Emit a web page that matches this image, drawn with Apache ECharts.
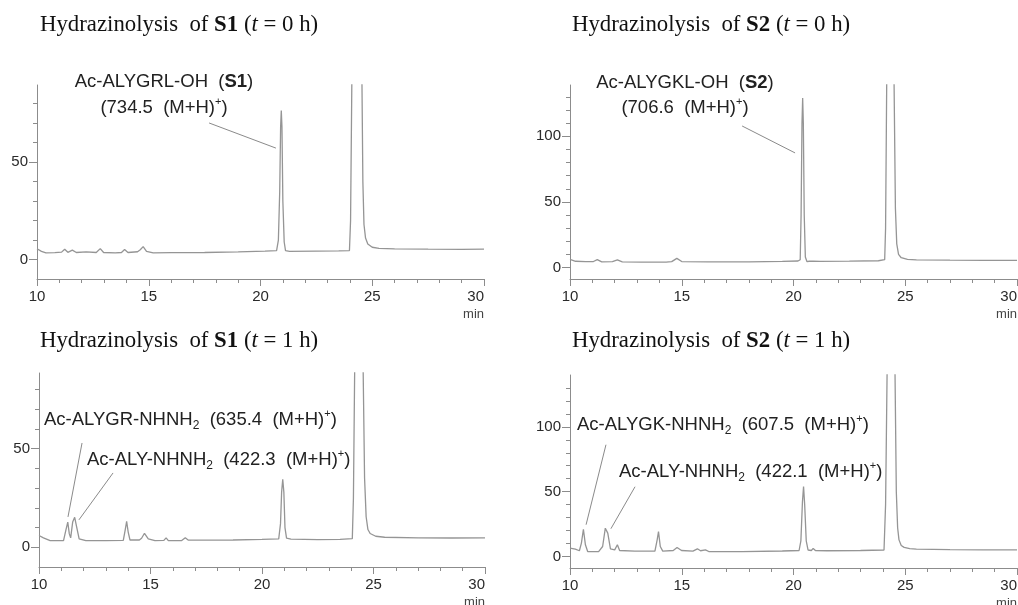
<!DOCTYPE html>
<html>
<head>
<meta charset="utf-8">
<title>Hydrazinolysis of S1 / S2</title>
<script src="https://cdn.jsdelivr.net/npm/echarts@6/dist/echarts.min.js"></script>
<style>
  html, body { margin: 0; padding: 0; background: #fff; }
  #main { width: 1018px; height: 605px; }
</style>
</head>
<body>
<div id="main"></div>
<script>
// retention time (min) and detector signal
var s1h0Time = [10.0, 10.2, 10.4, 10.8, 11.1, 11.24, 11.38, 11.58, 11.76, 12.2, 12.65, 12.83, 12.98, 13.5, 13.78, 13.92, 14.07, 14.5, 14.62, 14.75, 14.9, 15.2, 16.0, 17.5, 19.0, 20.2, 20.72, 20.8, 20.86, 20.9, 20.93, 20.96, 21.0, 21.06, 21.12, 21.3, 22.5, 23.5, 23.98, 24.03, 24.09, 24.2, 24.3, 24.45, 24.54, 24.58, 24.63, 24.7, 24.8, 25.0, 25.3, 26.0, 27.5, 29.0, 30.0];
var s1h0Signal = [5.5, 4.2, 3.4, 3.5, 3.8, 5.3, 3.7, 4.8, 3.6, 3.9, 3.6, 5.6, 3.6, 3.4, 3.6, 5.1, 3.6, 4.0, 5.0, 6.6, 4.2, 3.4, 3.5, 3.6, 3.9, 4.3, 4.6, 10, 35, 68, 76.5, 68, 30, 9, 4.6, 4.2, 4.3, 4.4, 4.6, 20, 95, 400, 600, 400, 90, 40, 18, 11, 8, 6.3, 5.7, 5.5, 5.3, 5.2, 5.3];

var s2h0Time = [10.0, 10.25, 10.7, 11.05, 11.22, 11.42, 11.9, 12.12, 12.34, 13.2, 14.3, 14.55, 14.78, 15.0, 16.2, 18.0, 19.5, 20.2, 20.3, 20.34, 20.38, 20.41, 20.44, 20.48, 20.53, 20.6, 20.7, 20.78, 20.88, 21.2, 22.5, 23.8, 24.08, 24.12, 24.17, 24.25, 24.35, 24.45, 24.5, 24.56, 24.62, 24.7, 24.82, 25.1, 25.5, 27.0, 28.5, 30.0];
var s2h0Signal = [6.3, 4.8, 4.5, 4.6, 6.0, 4.3, 4.6, 5.8, 4.3, 4.1, 4.2, 4.5, 7.0, 4.6, 4.3, 4.4, 4.7, 5.0, 6, 40, 110, 129, 110, 40, 8, 4.6, 4.8, 6.0, 4.8, 4.7, 4.9, 5.2, 6, 30, 140, 500, 700, 400, 140, 45, 18, 10, 7.5, 6.2, 5.8, 5.6, 5.5, 5.5];

var s1h1Time = [10.0, 10.2, 10.5, 11.1, 11.2, 11.29, 11.36, 11.42, 11.51, 11.6, 11.69, 11.8, 12.1, 13.0, 13.78, 13.86, 13.93, 14.0, 14.08, 14.5, 14.6, 14.73, 14.9, 15.2, 15.6, 15.7, 15.8, 16.4, 16.56, 16.7, 17.5, 18.7, 20.0, 20.75, 20.83, 20.88, 20.93, 20.98, 21.03, 21.1, 21.3, 22.5, 23.5, 24.05, 24.1, 24.16, 24.25, 24.45, 24.53, 24.6, 24.67, 24.75, 24.85, 25.1, 25.5, 27.0, 28.5, 30.0];
var s1h1Signal = [6.0, 4.8, 3.4, 3.4, 8.5, 12.8, 6.8, 4.8, 12.8, 15.2, 10.2, 4.3, 3.4, 3.4, 3.5, 8.5, 13.1, 7.7, 3.7, 3.7, 4.6, 7.1, 4.3, 3.4, 3.5, 4.8, 3.4, 3.4, 4.8, 3.6, 3.6, 3.7, 4.0, 4.3, 12, 28, 34.5, 28, 10, 4.6, 4.1, 3.9, 4.0, 4.4, 25, 95, 400, 400, 95, 35, 15.5, 9, 7.0, 5.6, 5.1, 4.8, 4.7, 4.8];

var s2h1Time = [10.0, 10.24, 10.42, 10.51, 10.6, 10.69, 10.79, 11.28, 11.46, 11.58, 11.69, 11.81, 12.0, 12.12, 12.22, 12.9, 13.8, 13.9, 13.96, 14.04, 14.15, 14.62, 14.79, 14.99, 15.5, 15.7, 15.84, 16.06, 16.21, 17.7, 19.5, 20.25, 20.33, 20.4, 20.45, 20.5, 20.57, 20.65, 20.8, 20.88, 20.98, 21.5, 23.0, 24.05, 24.12, 24.19, 24.3, 24.45, 24.54, 24.6, 24.66, 24.72, 24.82, 24.95, 25.2, 25.5, 27.0, 28.5, 30.0];
var s2h1Signal = [6.4, 5.6, 4.4, 10.3, 21.0, 9.0, 3.8, 3.8, 7.7, 21.8, 18.0, 5.9, 5.1, 9.0, 4.6, 4.1, 4.1, 12.8, 19.2, 7.7, 4.1, 4.6, 6.9, 4.6, 4.1, 5.9, 4.4, 5.1, 3.8, 3.8, 4.2, 4.6, 12, 42, 54, 40, 12, 5, 4.6, 6.2, 4.6, 4.4, 4.6, 5.0, 40, 145, 500, 500, 145, 50, 22, 12.8, 8.5, 7.0, 6.0, 5.6, 5.2, 5.1, 5.1];

// tick labels / tick marks
var xTickLabels = [10, 15, 20, 25, 30];
var xMinorTicks = [11, 12, 13, 14, 16, 17, 18, 19, 21, 22, 23, 24, 26, 27, 28, 29];
var yTickLabelsS1 = [0, 50];
var yMinorTicksS1 = [10, 20, 30, 40, 60, 70, 80];
var yTickLabelsS2 = [0, 50, 100];
var yMinorTicksS2 = [10, 20, 30, 40, 60, 70, 80, 90, 110, 120, 130];

var axisColor = '#8c8c8c';
var lineColor = '#959595';
var sans = 'Liberation Sans, Arial, sans-serif';
var serif = 'Liberation Serif, Times New Roman, serif';

var panels = [
  {
    time: s1h0Time, signal: s1h0Signal,
    grid: { left: 37, top: 85, width: 447, height: 194 },
    yMin: -10, yMax: 89.6, yLabels: yTickLabelsS1, yMinor: yMinorTicksS1,
    title: { x: 40, y: 25, text: '{n|Hydrazinolysis  of }{b|S1}{n| (}{i|t}{n| = 0 h)}' },
    notes: [
      { x: 164, y: 82, align: 'center', text: '{n|Ac-ALYGRL-OH  (}{b|S1}{n|)}' },
      { x: 164, y: 108, align: 'center', text: '{n|(734.5  (M+H)}{sup|+}{n|)}' }
    ],
    leaders: [[[17.70, 70.1], [20.69, 57.2]]]
  },
  {
    time: s2h0Time, signal: s2h0Signal,
    grid: { left: 570, top: 85, width: 447, height: 194 },
    yMin: -8.7, yMax: 139, yLabels: yTickLabelsS2, yMinor: yMinorTicksS2,
    title: { x: 572, y: 25, text: '{n|Hydrazinolysis  of }{b|S2}{n| (}{i|t}{n| = 0 h)}' },
    notes: [
      { x: 685, y: 83, align: 'center', text: '{n|Ac-ALYGKL-OH  (}{b|S2}{n|)}' },
      { x: 685, y: 108, align: 'center', text: '{n|(706.6  (M+H)}{sup|+}{n|)}' }
    ],
    leaders: [[[17.70, 107.8], [20.07, 87.3]]]
  },
  {
    time: s1h1Time, signal: s1h1Signal,
    grid: { left: 39, top: 373, width: 446, height: 194 },
    yMin: -10, yMax: 88.4, yLabels: yTickLabelsS1, yMinor: yMinorTicksS1,
    title: { x: 40, y: 341, text: '{n|Hydrazinolysis  of }{b|S1}{n| (}{i|t}{n| = 1 h)}' },
    notes: [
      { x: 44, y: 420, align: 'left', text: '{n|Ac-ALYGR-NHNH}{sub|2}{n|  (635.4  (M+H)}{sup|+}{n|)}' },
      { x: 87, y: 460, align: 'left', text: '{n|Ac-ALY-NHNH}{sub|2}{n|  (422.3  (M+H)}{sup|+}{n|)}' }
    ],
    leaders: [[[11.93, 52.9], [11.30, 15.4]], [[13.32, 37.7], [11.79, 13.9]]]
  },
  {
    time: s2h1Time, signal: s2h1Signal,
    grid: { left: 570, top: 375, width: 447, height: 193 },
    yMin: -8.9, yMax: 140, yLabels: yTickLabelsS2, yMinor: yMinorTicksS2,
    title: { x: 572, y: 341, text: '{n|Hydrazinolysis  of }{b|S2}{n| (}{i|t}{n| = 1 h)}' },
    notes: [
      { x: 577, y: 425, align: 'left', text: '{n|Ac-ALYGK-NHNH}{sub|2}{n|  (607.5  (M+H)}{sup|+}{n|)}' },
      { x: 619, y: 472, align: 'left', text: '{n|Ac-ALY-NHNH}{sub|2}{n|  (422.1  (M+H)}{sup|+}{n|)}' }
    ],
    leaders: [[[11.61, 86.2], [10.72, 24.5]], [[12.91, 53.8], [11.83, 21.4]]]
  }
];

var titleRich = {
  n: { fontSize: 22.8, fontFamily: serif, fill: '#111' },
  b: { fontSize: 22.8, fontFamily: serif, fontWeight: 'bold', fill: '#111' },
  i: { fontSize: 22.8, fontFamily: serif, fontStyle: 'italic', fill: '#111' }
};
var noteRich = {
  n: { fontSize: 18.5, fontFamily: sans, fill: '#222', lineHeight: 24 },
  b: { fontSize: 18.5, fontFamily: sans, fontWeight: 'bold', fill: '#222', lineHeight: 24 },
  sub: { fontSize: 12, fontFamily: sans, fill: '#222', lineHeight: 14, verticalAlign: 'bottom' },
  sup: { fontSize: 11, fontFamily: sans, fill: '#222', lineHeight: 16, verticalAlign: 'top' }
};

var grids = [], xAxes = [], yAxes = [], series = [], graphics = [];

panels.forEach(function (p, i) {
  // keep the grid where it is even if an edge label spills off the canvas
  grids.push(Object.assign({ outerBoundsMode: 'none', containLabel: false }, p.grid));

  // main x axis: line, long ticks and labels ("30" sits flush with the axis end)
  xAxes.push({
    type: 'value', gridIndex: i, min: 10, max: 30, position: 'bottom',
    axisLine: { show: true, onZero: false, lineStyle: { color: axisColor, width: 1 } },
    axisTick: { show: true, customValues: xTickLabels, length: 7, lineStyle: { color: axisColor } },
    axisLabel: {
      show: true, customValues: xTickLabels, margin: 10, alignMaxLabel: 'right',
      color: '#2a2a2a', fontSize: 15, fontFamily: sans
    },
    splitLine: { show: false }
  });
  // short minor ticks
  xAxes.push({
    type: 'value', gridIndex: i, min: 10, max: 30, position: 'bottom',
    axisLine: { show: false, onZero: false },
    axisTick: { show: true, customValues: xMinorTicks, length: 4, lineStyle: { color: axisColor } },
    axisLabel: { show: false },
    splitLine: { show: false }
  });

  yAxes.push({
    type: 'value', gridIndex: i, min: p.yMin, max: p.yMax, position: 'left',
    axisLine: { show: true, onZero: false, lineStyle: { color: axisColor, width: 1 } },
    axisTick: { show: true, customValues: p.yLabels, length: 8, lineStyle: { color: axisColor } },
    axisLabel: { show: true, customValues: p.yLabels, margin: 9, color: '#2a2a2a', fontSize: 15, fontFamily: sans },
    splitLine: { show: false }
  });
  yAxes.push({
    type: 'value', gridIndex: i, min: p.yMin, max: p.yMax, position: 'left',
    axisLine: { show: false, onZero: false },
    axisTick: { show: true, customValues: p.yMinor, length: 4, lineStyle: { color: axisColor } },
    axisLabel: { show: false },
    splitLine: { show: false }
  });

  series.push({
    type: 'line',
    xAxisIndex: i * 2,
    yAxisIndex: i * 2,
    data: p.time.map(function (t, k) { return [t, p.signal[k]]; }),
    showSymbol: false,
    symbol: 'none',
    clip: true,
    lineStyle: { color: lineColor, width: 1.3 },
    markLine: {
      silent: true,
      symbol: ['none', 'none'],
      label: { show: false },
      lineStyle: { color: '#8a8a8a', width: 1, type: 'solid' },
      data: p.leaders.map(function (l) {
        return [{ coord: l[0] }, { coord: l[1] }];
      })
    }
  });

  graphics.push({
    type: 'text', x: p.title.x, y: p.title.y, silent: true,
    style: { text: p.title.text, rich: titleRich, align: 'left', verticalAlign: 'middle' }
  });
  p.notes.forEach(function (n) {
    graphics.push({
      type: 'text', x: n.x, y: n.y, silent: true,
      style: { text: n.text, rich: noteRich, align: n.align, verticalAlign: 'middle' }
    });
  });
  // "min" unit under the right end of the time axis
  graphics.push({
    type: 'text', x: p.grid.left + p.grid.width, y: p.grid.top + p.grid.height + 35, silent: true,
    style: { text: 'min', fontSize: 13, fontFamily: sans, fill: '#444', align: 'right', verticalAlign: 'middle' }
  });
});

var chart = echarts.init(document.getElementById('main'));
chart.setOption({
  animation: false,
  backgroundColor: '#fff',
  grid: grids,
  xAxis: xAxes,
  yAxis: yAxes,
  series: series,
  graphic: graphics
});
</script>
</body>
</html>
